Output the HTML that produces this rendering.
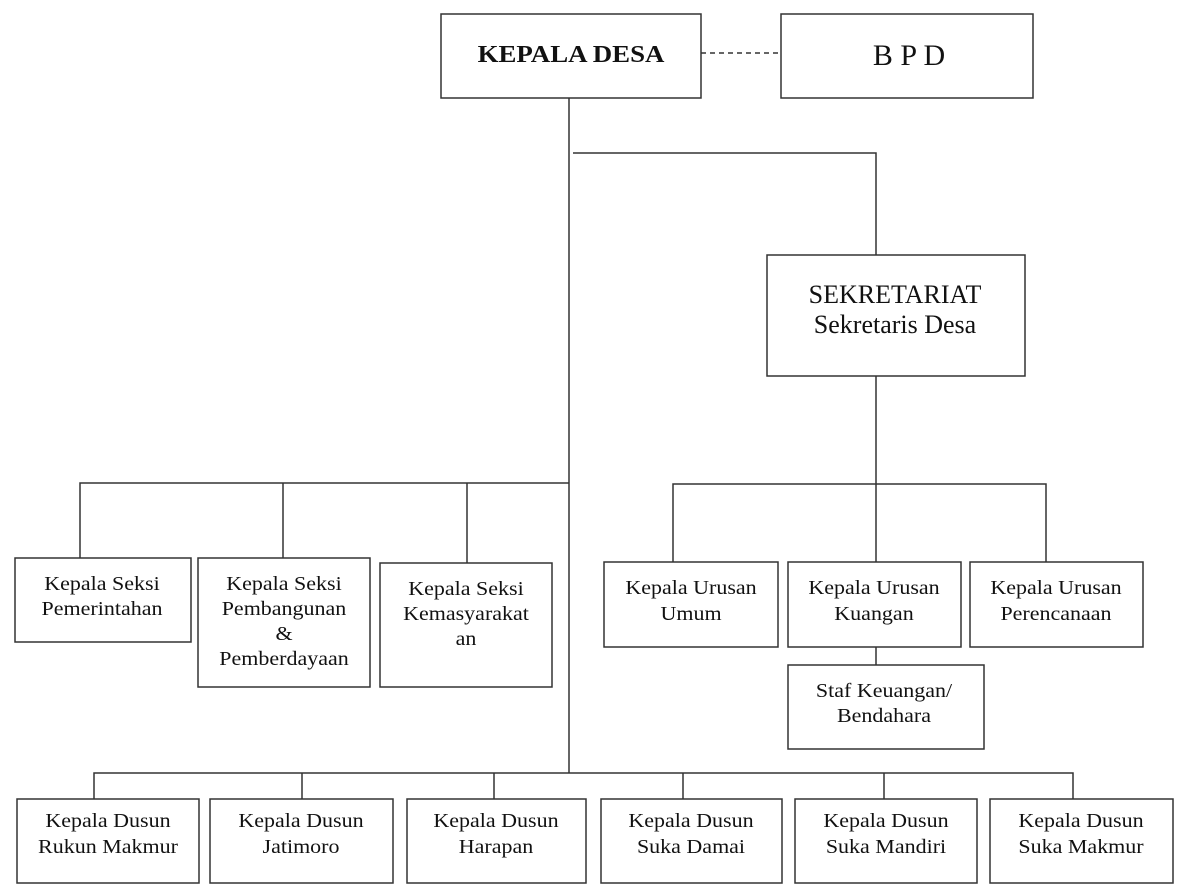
<!DOCTYPE html>
<html><head><meta charset="utf-8"><style>
html,body{margin:0;padding:0;background:#fff;}
svg{display:block;}
text{font-family:"Liberation Serif",serif;fill:#111;}
</style></head><body>
<svg width="1185" height="892" viewBox="0 0 1185 892" xmlns="http://www.w3.org/2000/svg">
<g fill="none" stroke="#333" stroke-width="1.5">
<!-- boxes -->
<rect x="441" y="14" width="260" height="84"/>
<rect x="781" y="14" width="252" height="84"/>
<rect x="767" y="255" width="258" height="121"/>
<rect x="15" y="558" width="176" height="84"/>
<rect x="198" y="558" width="172" height="129"/>
<rect x="380" y="563" width="172" height="124"/>
<rect x="604" y="562" width="174" height="85"/>
<rect x="788" y="562" width="173" height="85"/>
<rect x="970" y="562" width="173" height="85"/>
<rect x="788" y="665" width="196" height="84"/>
<rect x="17" y="799" width="182" height="84"/>
<rect x="210" y="799" width="183" height="84"/>
<rect x="407" y="799" width="179" height="84"/>
<rect x="601" y="799" width="181" height="84"/>
<rect x="795" y="799" width="182" height="84"/>
<rect x="990" y="799" width="183" height="84"/>
<!-- connectors -->
<line x1="701" y1="53" x2="781" y2="53" stroke-dasharray="5,4"/>
<line x1="569" y1="98" x2="569" y2="773"/>
<polyline points="573,153 876,153 876,255"/>
<line x1="876" y1="376" x2="876" y2="562"/>
<polyline points="80,558 80,483 569,483"/>
<line x1="283" y1="483" x2="283" y2="558"/>
<line x1="467" y1="483" x2="467" y2="563"/>
<polyline points="673,562 673,484 1046,484 1046,562"/>
<line x1="876" y1="647" x2="876" y2="665"/>
<polyline points="94,799 94,773 1073,773 1073,799"/>
<line x1="302" y1="773" x2="302" y2="799"/>
<line x1="494" y1="773" x2="494" y2="799"/>
<line x1="683" y1="773" x2="683" y2="799"/>
<line x1="884" y1="773" x2="884" y2="799"/>
</g>
<g text-anchor="middle">
<text transform="translate(571,62) scale(1.12,1)" font-size="24" font-weight="bold">KEPALA DESA</text>
<text x="909" y="65" font-size="30">B P D</text>
<text x="895" y="303" font-size="26">SEKRETARIAT</text>
<text x="895" y="333" font-size="26">Sekretaris Desa</text>

<g font-size="20">
<text transform="translate(102,590) scale(1.1,1)">Kepala Seksi</text>
<text transform="translate(102,615) scale(1.1,1)">Pemerintahan</text>
<text transform="translate(284,590) scale(1.1,1)">Kepala Seksi</text>
<text transform="translate(284,615) scale(1.1,1)">Pembangunan</text>
<text transform="translate(284,640) scale(1.1,1)">&amp;</text>
<text transform="translate(284,665) scale(1.1,1)">Pemberdayaan</text>
<text transform="translate(466,595) scale(1.1,1)">Kepala Seksi</text>
<text transform="translate(466,620) scale(1.1,1)">Kemasyarakat</text>
<text transform="translate(466,645) scale(1.1,1)">an</text>

<text transform="translate(691,594) scale(1.1,1)">Kepala Urusan</text>
<text transform="translate(691,620) scale(1.1,1)">Umum</text>
<text transform="translate(874,594) scale(1.1,1)">Kepala Urusan</text>
<text transform="translate(874,620) scale(1.1,1)">Kuangan</text>
<text transform="translate(1056,594) scale(1.1,1)">Kepala Urusan</text>
<text transform="translate(1056,620) scale(1.1,1)">Perencanaan</text>
<text transform="translate(884,697) scale(1.1,1)">Staf Keuangan/</text>
<text transform="translate(884,722) scale(1.1,1)">Bendahara</text>

<text transform="translate(108,827) scale(1.1,1)">Kepala Dusun</text>
<text transform="translate(108,853) scale(1.1,1)">Rukun Makmur</text>
<text transform="translate(301,827) scale(1.1,1)">Kepala Dusun</text>
<text transform="translate(301,853) scale(1.1,1)">Jatimoro</text>
<text transform="translate(496,827) scale(1.1,1)">Kepala Dusun</text>
<text transform="translate(496,853) scale(1.1,1)">Harapan</text>
<text transform="translate(691,827) scale(1.1,1)">Kepala Dusun</text>
<text transform="translate(691,853) scale(1.1,1)">Suka Damai</text>
<text transform="translate(886,827) scale(1.1,1)">Kepala Dusun</text>
<text transform="translate(886,853) scale(1.1,1)">Suka Mandiri</text>
<text transform="translate(1081,827) scale(1.1,1)">Kepala Dusun</text>
<text transform="translate(1081,853) scale(1.1,1)">Suka Makmur</text>
</g>
</g>
</svg>
</body></html>
